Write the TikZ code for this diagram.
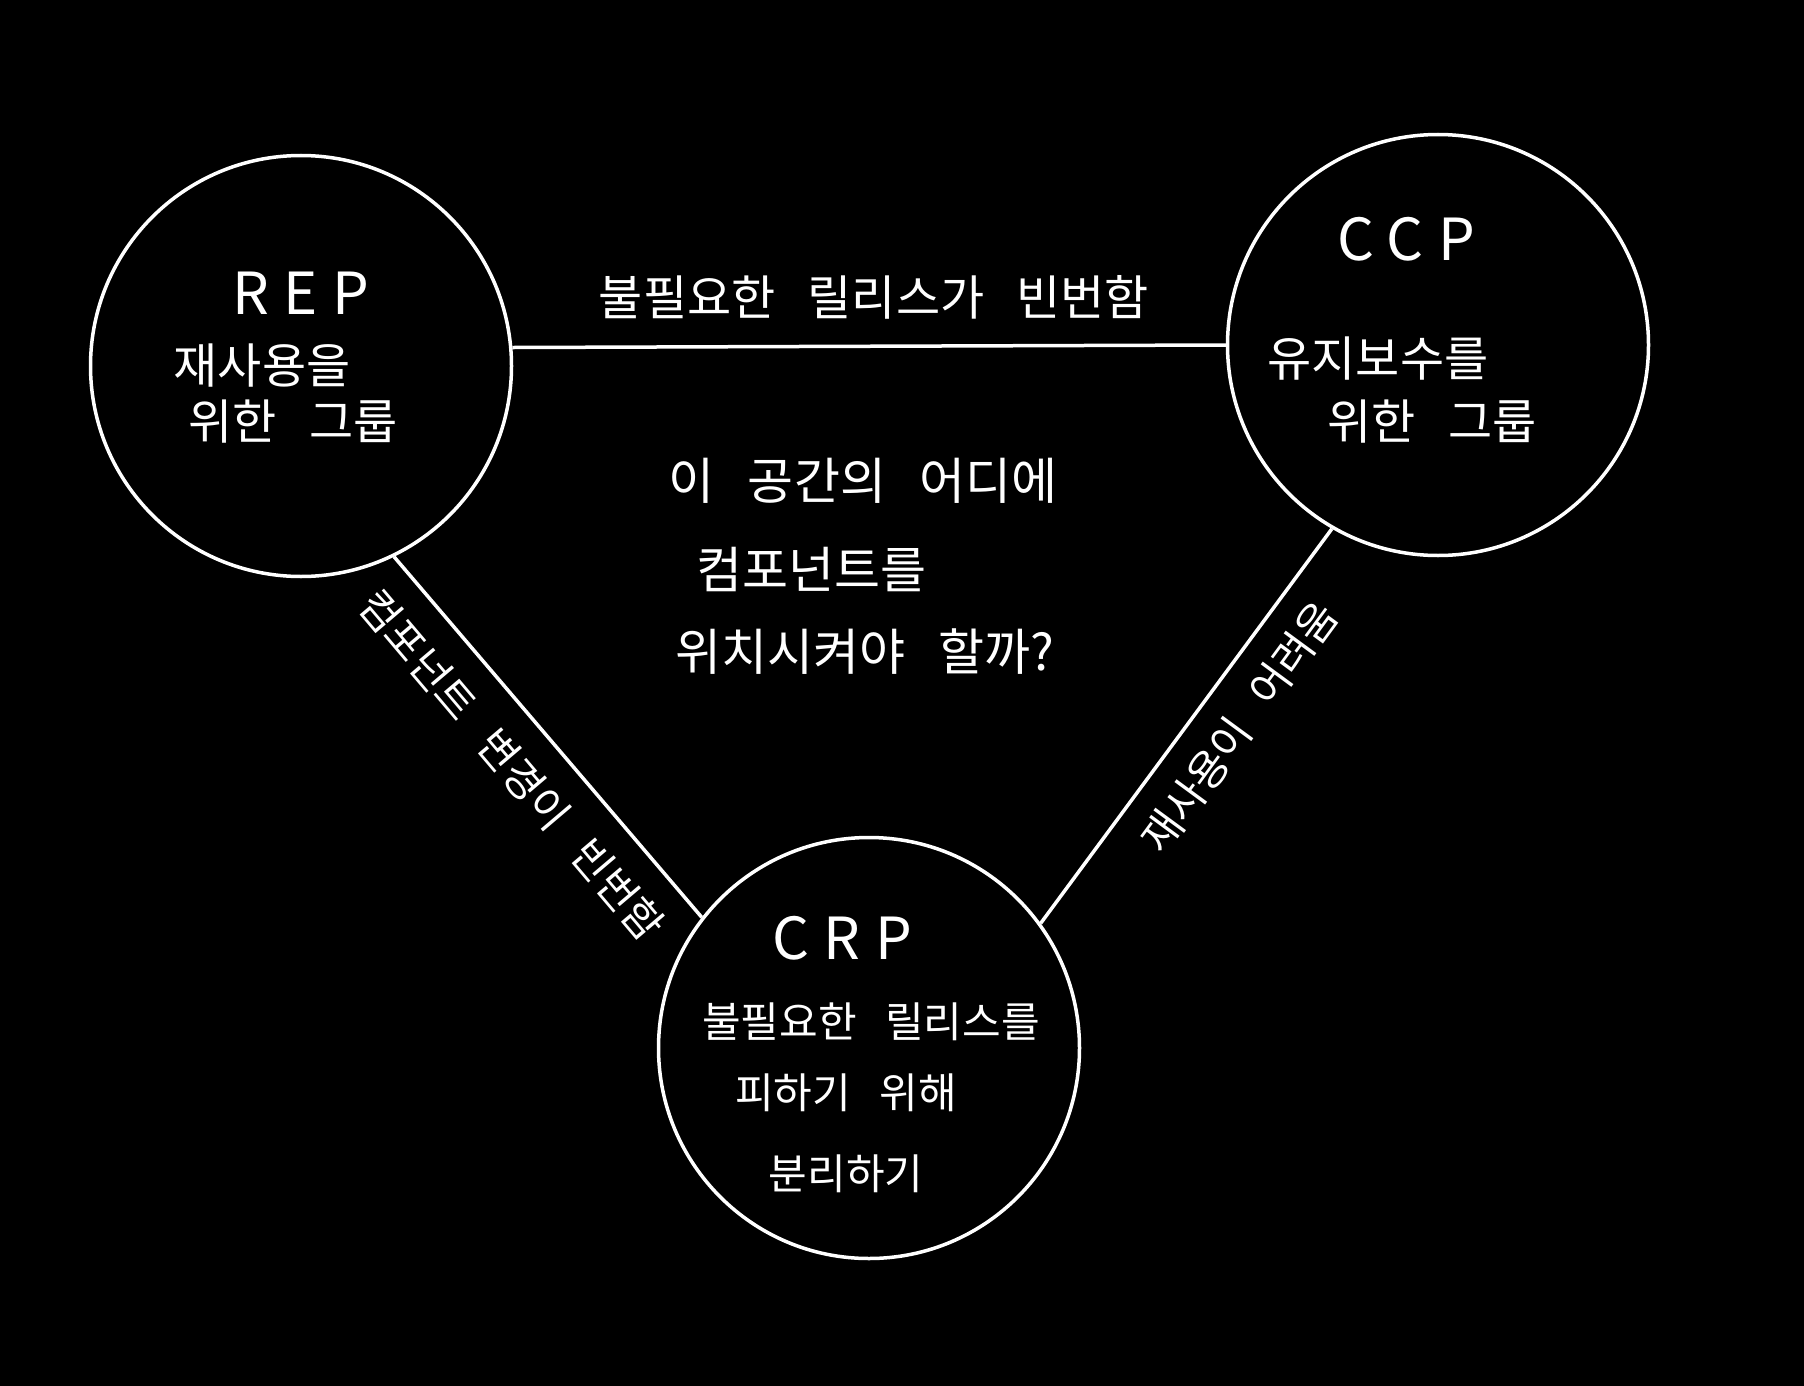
\documentclass[tikz,border=0pt]{standalone}
\usepackage{fontspec}
\newfontfamily\kr[WordSpace=3]{Noto Sans CJK KR}
\newfontfamily\krlat[LetterSpace=25]{Noto Sans CJK KR}
\begin{document}
\begin{tikzpicture}[x=1pt,y=-1pt,
  circ/.style={circle, draw=white, line width=3.5pt, minimum size=421pt, inner sep=0pt},
  txt/.style={text=white, inner sep=0pt, align=center, font=\kr\fontsize{48}{54}\selectfont},
  big/.style={txt, font=\kr\fontsize{50}{56}\selectfont},
  small/.style={txt, font=\kr\fontsize{42}{48}\selectfont},
  title/.style={text=white, inner sep=0pt, font=\krlat\fontsize{58}{64}\selectfont},
  edge/.style={draw=white, line width=3.5pt}]
\fill[black] (0,0) rectangle (1804,1386);
\useasboundingbox (0,0) rectangle (1804,1386);
% circles
\node[circ] (rep) at (301,366) {};
\node[circ] (ccp) at (1438,345) {};
\node[circ] (crp) at (869,1048) {};
% connectors
\draw[edge] (rep.5) -- (ccp.180);
\draw[edge] (rep.-64) -- (crp.142.6);
\draw[edge] (ccp.-120.2) -- (crp.36);
% REP
\node[title] (repT) at (301,293) {REP};
\node[txt] (rep1) at (262,366) {재사용을};
\node[txt] (rep2) at (293,422) {위한 그룹};
% CCP
\node[title] (ccpT) at (1406,239) {CCP};
\node[txt] (ccp1) at (1378,359) {유지보수를};
\node[txt] (ccp2) at (1432,422) {위한 그룹};
% CRP
\node[title] (crpT) at (842,938) {CRP};
\node[small] (crp1) at (871,1022) {불필요한 릴리스를};
\node[small] (crp2) at (846,1093) {피하기 위해};
\node[small] (crp3) at (846,1174) {분리하기};
% edge labels
\node[txt] (top) at (874,297) {불필요한 릴리스가 빈번함};
\node[small, rotate=-49.7] (left) at (512,765) {컴포넌트 변경이 빈번함};
\node[small, rotate=53.7] (right) at (1239,727) {재사용이 어려움};
% centre question
\node[big] (q1) at (863,481) {이 공간의 어디에};
\node[big] (q2) at (811,569) {컴포넌트를};
\node[big] (q3) at (865,652) {위치시켜야 할까?};
\end{tikzpicture}
\end{document}
